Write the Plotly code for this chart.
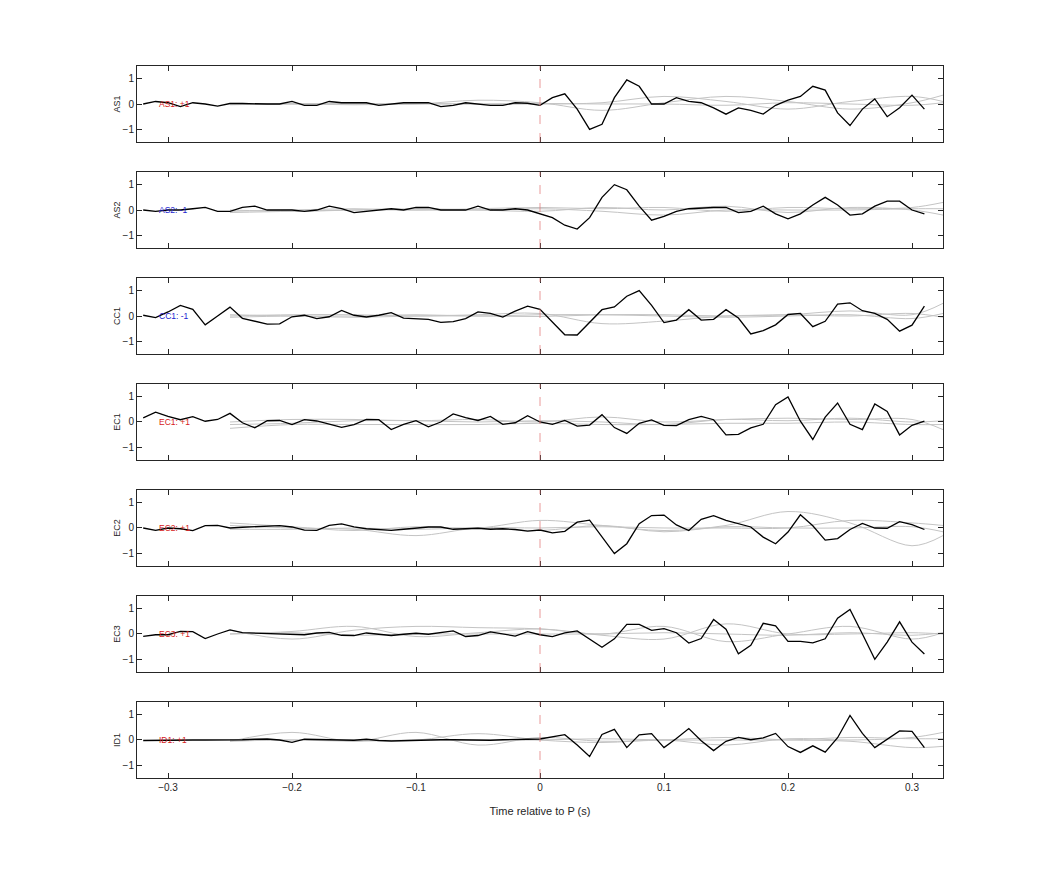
import numpy as np
import plotly.graph_objects as go
from plotly.subplots import make_subplots

stations = ["AS1", "AS2", "CC1", "EC1", "EC2", "EC3", "ID1"]
labels = ["AS1: +1", "AS2: -1", "CC1: -1", "EC1: +1", "EC2: +1", "EC3: +1", "ID1: +1"]
label_colors = ["#d62020", "#2020d0", "#2020d0", "#d62020", "#d62020", "#d62020", "#d62020"]

t = np.round(np.arange(-0.32, 0.315, 0.01), 2)

as1 = [0, 0.1, 0.05, -0.1, 0.05, 0.0, -0.08, 0.02, 0.02, 0.0, 0.0, 0.0, 0.1, -0.05, -0.05, 0.1,
       0.05, 0.05, 0.05, -0.05, 0.0, 0.05, 0.05, 0.05, -0.1, -0.05, 0.05, 0.0, -0.05, -0.05, 0.05, 0.03,
       -0.05, 0.25, 0.4, -0.2, -1.0, -0.8, 0.25, 0.95, 0.7, 0.0, 0.0, 0.25, 0.1, 0.05, -0.15, -0.4,
       -0.15, -0.25, -0.4, -0.05, 0.15, 0.3, 0.7, 0.55, -0.35, -0.85, -0.2, 0.2, -0.5, -0.15, 0.35, -0.2]
as2 = [0, -0.05, 0, 0, 0.05, 0.1, -0.05, -0.05, 0.1, 0.15, 0.0, 0.0, 0.0, -0.05, 0.0, 0.15,
       0.05, -0.1, -0.05, 0.0, 0.05, 0.0, 0.1, 0.1, 0.0, 0.0, 0.0, 0.15, 0.0, 0.0, 0.05, 0.0,
       -0.15, -0.3, -0.6, -0.75, -0.3, 0.5, 1.0, 0.8, 0.15, -0.4, -0.25, -0.05, 0.05, 0.08, 0.1, 0.1,
       -0.1, -0.05, 0.15, -0.15, -0.35, -0.15, 0.2, 0.5, 0.2, -0.2, -0.15, 0.15, 0.35, 0.35, 0.0, -0.15]
cc1 = [0.03, -0.06, 0.16, 0.42, 0.26, -0.35, 0, 0.35, -0.09, -0.22, -0.32, -0.31, -0.03, 0.03, -0.1, -0.03,
       0.22, 0.03, -0.04, 0.03, 0.13, -0.08, -0.1, -0.13, -0.25, -0.22, -0.1, 0.16, 0.1, -0.04, 0.19, 0.39,
       0.26, -0.26, -0.74, -0.75, -0.26, 0.25, 0.36, 0.78, 1.0, 0.42, -0.26, -0.16, 0.25, -0.16, -0.13, 0.25,
       -0.08, -0.71, -0.58, -0.35, 0.06, 0.1, -0.42, -0.21, 0.47, 0.52, 0.21, 0.1, -0.13, -0.6, -0.36, 0.39]
ec1 = [0.16, 0.39, 0.22, 0.09, 0.21, 0.03, 0.1, 0.34, -0.03, -0.23, 0.05, 0.06, -0.1, 0.09, 0.04, -0.08,
       -0.21, -0.1, 0.1, 0.09, -0.3, -0.09, 0.05, -0.19, 0, 0.32, 0.17, 0.06, 0.22, -0.09, -0.03, 0.25,
       0, -0.09, 0.06, -0.16, -0.12, 0.29, -0.22, -0.45, -0.05, 0.08, -0.13, -0.14, 0.09, 0.22, 0.09, -0.51,
       -0.49, -0.23, -0.09, 0.68, 0.99, 0.03, -0.69, 0.19, 0.75, -0.09, -0.3, 0.71, 0.42, -0.51, -0.13, 0.03]
ec2 = [0, -0.09, 0, -0.03, -0.1, 0.09, 0.1, 0, 0.03, 0.05, 0.09, 0.09, 0.04, -0.08, -0.09, 0.1,
       0.16, 0.04, -0.03, -0.06, -0.09, -0.05, -0.01, 0.04, 0.04, -0.05, -0.03, -0.01, -0.05, -0.03, -0.06, -0.12,
       -0.08, -0.19, -0.13, 0.23, 0.31, -0.36, -1.01, -0.62, 0.17, 0.49, 0.51, 0.12, -0.1, 0.34, 0.49, 0.30,
       0.18, 0.04, -0.36, -0.62, -0.16, 0.52, 0.09, -0.48, -0.42, -0.06, 0.18, 0, -0.01, 0.25, 0.13, -0.06]
ec3 = [-0.09, -0.03, -0.03, 0.1, 0.09, -0.18, 0, 0.16, 0.05, 0.03, 0.01, 0, -0.01, -0.03, 0.04, 0.06,
       -0.05, -0.06, 0.04, 0, -0.06, -0.01, 0.03, -0.01, 0.06, 0.12, -0.1, -0.06, 0.08, 0, -0.08, 0.09,
       -0.03, -0.1, 0.04, 0.12, -0.19, -0.52, -0.19, 0.38, 0.38, 0.14, 0.21, 0.05, -0.36, -0.18, 0.57, 0.19,
       -0.78, -0.45, 0.42, 0.32, -0.29, -0.29, -0.35, -0.19, 0.62, 0.97, 0, -1.0, -0.32, 0.48, -0.32, -0.79]
id1 = [-0.02, -0.01, 0, 0, 0, 0, 0, 0, 0.01, 0.03, 0.04, 0, -0.09, 0.03, 0.02, 0.02,
       0, -0.01, 0.03, -0.02, -0.04, -0.02, -0.01, 0, 0.01, 0.01, 0, 0, -0.01, 0.01, 0.03, 0.03,
       0.04, 0.13, 0.21, -0.2, -0.65, 0.22, 0.42, -0.3, 0.2, 0.25, -0.3, 0.06, 0.45, -0.03, -0.42, -0.05,
       0.1, 0.01, 0.08, 0.26, -0.26, -0.49, -0.23, -0.48, 0.09, 0.97, 0.26, -0.3, 0.03, 0.36, 0.34, -0.3]
black = [as1, as2, cc1, ec1, ec2, ec3, id1]

# grey background traces, sampled every 0.05 s from -0.25 s
tg = [-0.25, -0.2, -0.15, -0.1, -0.05, 0.0, 0.05, 0.1, 0.15, 0.2, 0.25, 0.3, 0.325]
grey = [
    [[0.02, 0.0, 0.02, 0.0, 0.15, 0.05, -0.25, 0.05, 0.3, 0.1, -0.2, 0.05, 0.35],
     [0.0, 0.02, 0.0, 0.02, 0.0, 0.0, 0.05, 0.3, 0.1, -0.2, 0.1, 0.3, 0.1],
     [-0.03, 0.0, -0.03, 0.0, 0.0, 0.02, 0.0, 0.0, -0.05, 0.05, 0.0, -0.05, 0.05]],
    [[-0.05, 0.0, 0.05, 0.0, 0.05, 0.1, 0.05, 0.1, -0.05, 0.1, 0.05, 0.1, 0.3],
     [0.0, -0.05, 0.0, 0.05, 0.0, -0.05, 0.1, 0.0, 0.15, -0.1, 0.1, 0.0, -0.2],
     [-0.1, -0.05, 0.0, 0.0, 0.0, 0.05, -0.05, -0.2, 0.0, 0.0, 0.0, 0.05, 0.05]],
    [[0.0, 0.05, 0.05, 0.0, 0.05, 0.1, -0.3, -0.2, 0.0, 0.05, 0.2, 0.05, 0.5],
     [-0.05, 0.0, 0.0, 0.05, 0.0, 0.05, 0.05, 0.0, -0.05, 0.0, 0.05, -0.1, 0.1],
     [0.05, 0.0, -0.05, 0.0, 0.0, -0.02, 0.05, 0.05, 0.0, 0.05, 0.0, 0.1, -0.05]],
    [[0.0, 0.1, 0.1, 0.05, 0.1, 0.0, 0.2, 0.0, 0.1, 0.15, 0.1, 0.1, -0.3],
     [-0.1, -0.05, 0.05, 0.05, 0.0, 0.05, 0.0, -0.1, 0.1, 0.05, 0.15, 0.0, 0.05],
     [-0.25, -0.1, -0.1, -0.1, -0.1, -0.05, -0.1, -0.1, -0.05, -0.05, 0.0, -0.1, -0.1]],
    [[0.2, 0.05, -0.1, 0.05, 0.0, 0.3, 0.1, -0.1, 0.1, 0.65, 0.2, -0.7, -0.3],
     [0.1, 0.0, -0.05, -0.3, 0.0, 0.0, 0.05, 0.0, 0.0, 0.0, 0.3, 0.2, 0.1],
     [-0.05, -0.05, 0.0, -0.05, 0.0, -0.1, 0.1, -0.15, 0.05, 0.0, 0.0, 0.05, -0.15]],
    [[0.15, -0.2, 0.15, 0.3, 0.25, 0.2, 0.0, 0.3, -0.3, 0.0, 0.3, -0.2, 0.05],
     [0.0, 0.1, 0.3, -0.1, 0.05, 0.2, -0.05, -0.2, 0.4, 0.0, 0.0, 0.05, 0.0],
     [0.0, 0.05, -0.05, 0.0, 0.0, 0.0, 0.0, 0.05, 0.0, -0.05, 0.05, -0.05, 0.05]],
    [[-0.05, 0.3, -0.05, 0.3, -0.2, 0.1, -0.05, 0.0, 0.1, 0.0, -0.05, -0.3, -0.25],
     [0.0, 0.0, 0.0, 0.0, 0.25, 0.0, -0.1, 0.0, -0.2, 0.05, 0.0, 0.1, 0.3],
     [-0.05, 0.0, -0.05, 0.0, 0.0, 0.0, 0.05, 0.0, 0.0, 0.0, 0.1, 0.05, 0.05]],
]

fig = make_subplots(rows=7, cols=1, shared_xaxes=True, vertical_spacing=0.0421)

for i, st in enumerate(stations):
    r = i + 1
    for g in grey[i]:
        fig.add_trace(go.Scatter(x=tg, y=g, mode="lines", line=dict(color="#c4c4c4", width=1, shape="spline"),
                                 showlegend=False, hoverinfo="skip"), row=r, col=1)
    fig.add_trace(go.Scatter(x=t, y=black[i], mode="lines", line=dict(color="black", width=1.3),
                             showlegend=False), row=r, col=1)
    fig.add_vline(x=0, line=dict(color="rgba(225,120,120,0.75)", width=1, dash="dash"), row=r, col=1)
    fig.add_annotation(x=-0.309, y=0, text=labels[i], showarrow=False, xanchor="left",
                       font=dict(size=8.5, color=label_colors[i]), row=r, col=1)
    fig.update_yaxes(title_text=st, title_font=dict(size=9), title_standoff=0, row=r, col=1)

fig.update_xaxes(range=[-0.325, 0.325], tickvals=[-0.3, -0.2, -0.1, 0, 0.1, 0.2, 0.3],
                 showline=True, mirror="ticks", linecolor="#262626", ticks="inside", ticklen=5,
                 tickcolor="#262626", showgrid=False, zeroline=False, tickfont=dict(size=10))
fig.update_xaxes(title_text="Time relative to P (s)", title_font=dict(size=11), row=7, col=1)
fig.update_yaxes(range=[-1.5, 1.5], tickvals=[-1, 0, 1], showline=True, mirror="ticks",
                 linecolor="#262626", ticks="inside", ticklen=5, tickcolor="#262626",
                 showgrid=False, zeroline=False, tickfont=dict(size=10))

fig.update_layout(width=1042, height=875, plot_bgcolor="white", paper_bgcolor="white",
                  margin=dict(l=129, r=107, t=58, b=105),
                  font=dict(family="Liberation Sans, Arial, sans-serif", color="#262626"))

fig.write_html("out.html")
